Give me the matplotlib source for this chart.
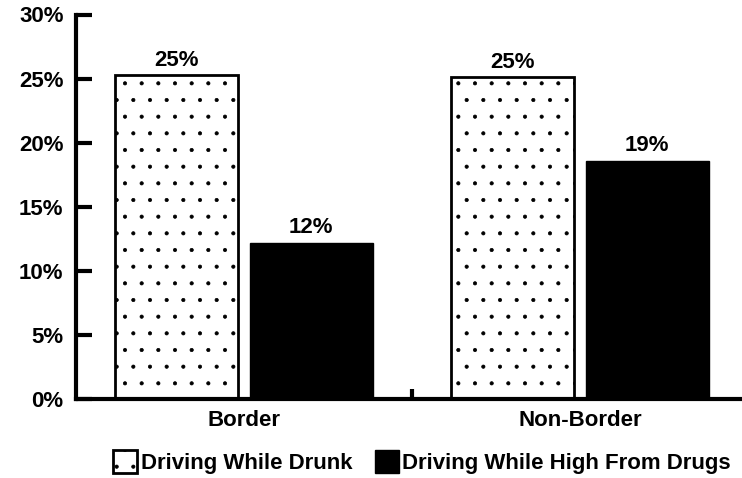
import numpy as np
import matplotlib
matplotlib.use("Agg")
import matplotlib.pyplot as plt

plt.rcParams['font.family'] = ['Liberation Sans', 'DejaVu Sans']
plt.rcParams['hatch.linewidth'] = 0.5

groups = ["Border", "Non-Border"]
series = ["Driving While Drunk", "Driving While High From Drugs"]
drunk = [25.3, 25.1]
high = [12.2, 18.6]
drunk_labels = ["25%", "25%"]
high_labels = ["12%", "19%"]
yticks = [0, 5, 10, 15, 20, 25, 30]

fs = 16

fig = plt.figure(figsize=(7.42, 4.78), dpi=100)
ax = fig.add_axes([76 / 742, 1 - 399 / 478, 672 / 742, (399 - 14.5) / 478])

x = np.arange(len(groups))
w = 0.365
b1 = ax.bar(x - 0.2, drunk, w, facecolor="white", edgecolor="black",
            linewidth=2, hatch=".", label=series[0])
b2 = ax.bar(x + 0.2, high, w, facecolor="black", edgecolor="black",
            linewidth=1, label=series[1])

ax.bar_label(b1, labels=drunk_labels, padding=3, fontsize=fs, fontweight="bold")
ax.bar_label(b2, labels=high_labels, padding=3, fontsize=fs, fontweight="bold")

ax.set_xlim(-0.5, 1.5)
ax.set_ylim(0, 30)
ax.set_yticks(yticks)
ax.set_yticklabels([f"{t}%" for t in yticks], fontsize=fs, fontweight="bold")
ax.set_xticks(x)
ax.set_xticklabels(groups, fontsize=fs, fontweight="bold")
ax.set_xticks([0.5], minor=True)

ax.spines["top"].set_visible(False)
ax.spines["right"].set_visible(False)
ax.spines["left"].set_linewidth(3)
ax.spines["bottom"].set_linewidth(3)
ax.tick_params(axis="y", direction="in", length=11.5, width=3, pad=9)
ax.tick_params(axis="x", which="major", length=0, pad=8)
ax.tick_params(axis="x", which="minor", direction="in", length=7, width=3)

# legend sits under the plot, a bit right of centre
fig.legend(loc="center", ncol=2, frameon=False,
           prop={"weight": "bold", "size": fs}, handlelength=1.1,
           handleheight=1.2, handletextpad=0.15, columnspacing=1.0,
           bbox_to_anchor=(422 / 742, 1 - 462 / 478))

fig.savefig("out.png", dpi=100)
